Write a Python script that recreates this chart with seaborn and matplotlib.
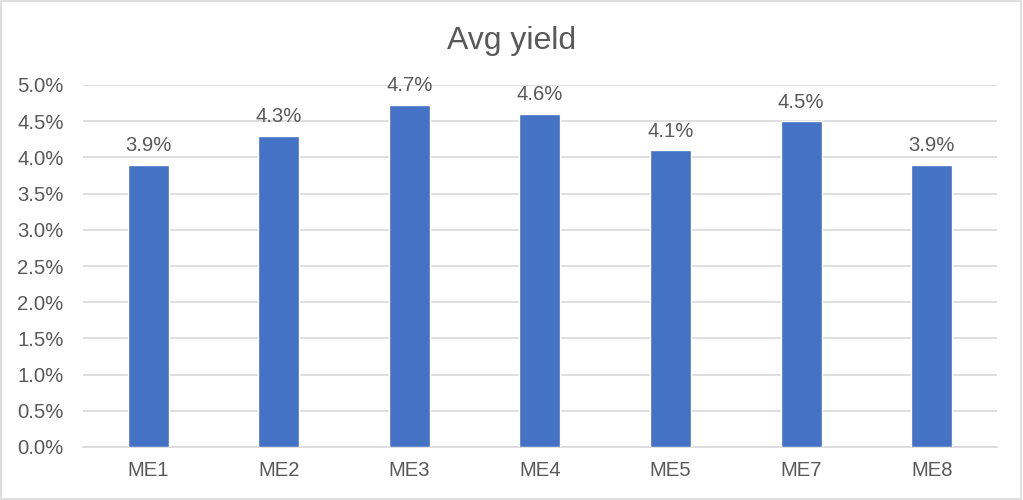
import matplotlib
matplotlib.use('Agg')
import matplotlib.pyplot as plt
import matplotlib.patches as mpatches
import pandas as pd
import seaborn as sns

# chart data
categories = ['ME1', 'ME2', 'ME3', 'ME4', 'ME5', 'ME7', 'ME8']
avg_yield = [0.039, 0.043, 0.0473, 0.046, 0.041, 0.045, 0.039]

df = pd.DataFrame({'group': categories, 'yield': avg_yield})

sns.set_style('white')
plt.rcParams['font.family'] = ['Liberation Sans', 'DejaVu Sans']
text_col = '#595959'

fig = plt.figure(figsize=(10.23, 5.0), dpi=100)
ax = fig.add_axes([0.0811, 0.106, 0.8935, 0.724])

sns.barplot(data=df, x='group', y='yield', color='#4472C4', width=0.314,
            saturation=1, ax=ax, zorder=3)

ax.set_ylim(0, 0.05)
ax.set_yticks([i * 0.005 for i in range(11)])
ax.yaxis.set_major_formatter(plt.FuncFormatter(lambda v, _: f'{v * 100:.1f}%'))
ax.grid(True, axis='y', color='#D9D9D9', linewidth=1.2, zorder=0)
ax.set_xlabel('')
ax.set_ylabel('')
for s in ['top', 'right', 'left']:
    ax.spines[s].set_visible(False)
ax.spines['bottom'].set_color('#D9D9D9')
ax.spines['bottom'].set_linewidth(1.2)
ax.tick_params(axis='both', length=0, labelsize=14.6, colors=text_col)
ax.tick_params(axis='x', pad=10)
ax.tick_params(axis='y', pad=14)

for bar, v in zip(ax.patches, avg_yield):
    ax.annotate(f'{v * 100:.1f}%', (bar.get_x() + bar.get_width() / 2, bar.get_height()),
                xytext=(0, 9.7), textcoords='offset points', ha='center', va='baseline',
                fontsize=14.6, color=text_col)

fig.text(0.5, 0.902, 'Avg yield', ha='center', va='baseline', fontsize=23, color=text_col)

# light border round the chart area
fig.patches.append(mpatches.Rectangle((0.001, 0.002), 0.997, 0.996, transform=fig.transFigure,
                                      fill=False, edgecolor='#D9D9D9', linewidth=1.2))

fig.savefig('out.png', dpi=100, facecolor='white')
